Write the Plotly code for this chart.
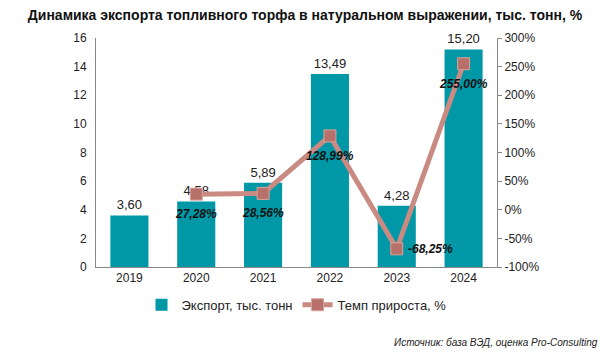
import plotly.graph_objects as go

years = ["2019", "2020", "2021", "2022", "2023", "2024"]
export_vals = [3.60, 4.58, 5.89, 13.49, 4.28, 15.20]
growth_years = ["2020", "2021", "2022", "2023", "2024"]
growth_vals = [27.28, 28.56, 128.99, -68.25, 255.00]
right_tick_vals = [-100, -50, 0, 50, 100, 150, 200, 250, 300]
right_tick_text = ["-100%", "-50%", "0%", "50%", "100%", "150%", "200%", "250%", "300%"]

def fmt(v, suffix=""):
    return f"{v:.2f}".replace(".", ",") + suffix

FONT = "Liberation Sans, Arial, sans-serif"

fig = go.Figure()
fig.add_trace(go.Bar(
    x=years, y=export_vals, name="Экспорт, тыс. тонн",
    marker=dict(color="#0097a6", line=dict(width=0)),
    width=0.57,
    text=[fmt(v) for v in export_vals], textposition="outside",
    textfont=dict(size=13, color="#222222", family=FONT),
    cliponaxis=False, yaxis="y",
))
fig.add_trace(go.Scatter(
    x=growth_years, y=growth_vals, name="Темп прироста, %",
    mode="lines+markers",
    line=dict(color="#c98a82", width=5),
    marker=dict(symbol="square", size=12, color="#b8716a", line=dict(color="#d9a39b", width=1)),
    cliponaxis=False, yaxis="y2",
))

# growth labels (below the marker, except the negative one placed right);
# on a category axis the annotation x is the category's serial index
for xv, yv in zip(growth_years, growth_vals):
    right = yv < 0
    fig.add_annotation(
        x=years.index(xv), y=yv, xref="x", yref="y2",
        text="<b><i>" + fmt(yv, "%") + "</i></b>",
        showarrow=False,
        xanchor="left" if right else "center", yanchor="middle",
        xshift=9 if right else 0, yshift=0 if right else -20,
        font=dict(size=12, color="#111111", family=FONT),
    )

fig.update_layout(
    width=610, height=361,
    margin=dict(l=96, r=113, t=38, b=94, autoexpand=False),
    paper_bgcolor="white", plot_bgcolor="white",
    font=dict(family=FONT, size=12, color="#222222"),
    title=dict(text="<b>Динамика экспорта топливного торфа в натуральном выражении, тыс. тонн, %</b>",
               x=0.5, xanchor="center", y=0.958, yanchor="middle",
               font=dict(size=14, color="#111111", family=FONT)),
    showlegend=True,
    legend=dict(orientation="h", x=0.5, xanchor="center", y=-0.165, yanchor="middle",
                font=dict(size=13, family=FONT), traceorder="normal"),
    xaxis=dict(type="category", categoryorder="array", categoryarray=years,
               range=[-0.5, len(years) - 0.5], autorange=False,
               showline=True, linecolor="#888888", linewidth=1, ticks="", showgrid=False,
               tickfont=dict(size=12)),
    yaxis=dict(range=[0, 16], dtick=2, showgrid=False, showline=True, linecolor="#888888",
               linewidth=1, ticks="", zeroline=False, tickfont=dict(size=12),
               ticklabelstandoff=6),
    yaxis2=dict(range=[-100, 300], tickvals=right_tick_vals, ticktext=right_tick_text,
                overlaying="y", side="right", showgrid=False,
                showline=True, linecolor="#888888", linewidth=1, ticks="outside", ticklen=4,
                tickcolor="#888888", zeroline=False, tickfont=dict(size=12)),
    bargap=0.43,
)
fig.add_annotation(text="<i>Источник: база ВЭД, оценка Pro-Consulting</i>",
                   xref="paper", yref="paper", x=(600 - 96) / 401, y=-(342 - 267) / 229,
                   xanchor="right", yanchor="middle",
                   showarrow=False, font=dict(size=10, color="#222222", family=FONT))

fig.write_html("out.html", config={"displayModeBar": False},
               post_script="document.body.style.margin='0';")
